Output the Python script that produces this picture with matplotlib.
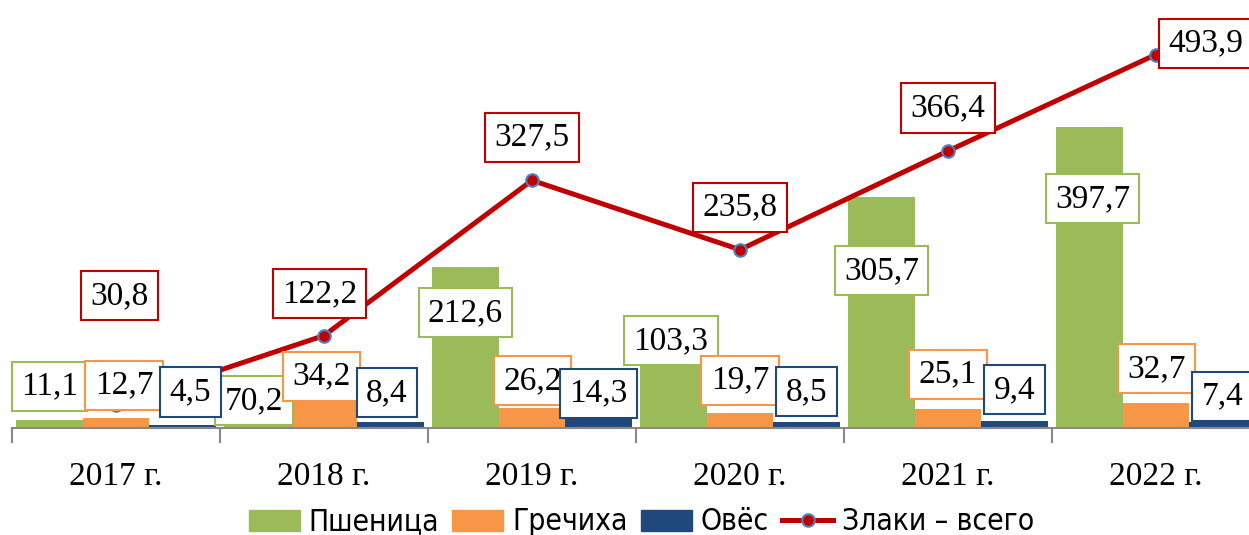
import numpy as np
import matplotlib.pyplot as plt
from matplotlib.lines import Line2D
from matplotlib.patches import Patch
from matplotlib.font_manager import FontProperties

# Data
years = ['2017 г.', '2018 г.', '2019 г.', '2020 г.', '2021 г.', '2022 г.']
wheat = [11.1, 70.2, 212.6, 103.3, 305.7, 397.7]
buckwheat = [12.7, 34.2, 26.2, 19.7, 25.1, 32.7]
oats = [4.5, 8.4, 14.3, 8.5, 9.4, 7.4]
total = [30.8, 122.2, 327.5, 235.8, 366.4, 493.9]
names = ['Пшеница', 'Гречиха', 'Овёс', 'Злаки – всего']

# label offsets in pixels (dx, dy) from mark
off_wheat = [(0, 33.5), (-3.5, -26), (0, -45.5), (-2.5, 9), (0, -74), (3, -71.5)]
off_buck = [(8, 33), (-2.5, 26), (0.5, 27.5), (0, 33), (0, 34.5), (0.5, 34.5)]
off_oats = [(8, 32.6), (-3.5, 29), (0, 24), (0, 30), (0, 31), (0, 26)]
off_total = [(3.5, 109), (-4.5, 42), (0, 43), (0, 42.5), (0, 43), (50, 11)]

GREEN = '#9BBB59'
ORANGE = '#F79646'
BLUE = '#1F497D'
RED = '#C00000'
MARK_EDGE = '#4F81BD'

SERIF = 'Liberation Serif'

fig = plt.figure(figsize=(12.49, 5.35), dpi=100)
ax = fig.add_axes([12/1249, 107/535, 6*208/1249, 428/535])

x = np.arange(len(years))
w = 0.32
ax.bar(x - w, wheat, w, color=GREEN, zorder=2)
ax.bar(x, buckwheat, w, color=ORANGE, zorder=2)
ax.bar(x + w, oats, w, color=BLUE, zorder=2)
ax.plot(x, total, color=RED, lw=3.6, marker='o', ms=9,
        mfc=RED, mec=MARK_EDGE, mew=1.5, zorder=3)

def labels(xs, vals, offs, ec):
    for xi, v, (dx, dy) in zip(xs, vals, offs):
        ax.annotate(f'{v:.1f}'.replace('.', ','), (xi, v),
                    xytext=(dx, dy), textcoords='offset pixels',
                    ha='center', va='center', fontsize=24, family=SERIF,
                    zorder=5, annotation_clip=False,
                    bbox=dict(boxstyle='square,pad=0.28', fc='white',
                              ec=ec, lw=1.5))

labels(x - w, wheat, off_wheat, GREEN)
labels(x, buckwheat, off_buck, ORANGE)
labels(x + w, oats, off_oats, BLUE)
labels(x, total, off_total, RED)

ax.set_xlim(-0.5, len(years) - 0.5)
ax.set_ylim(0, 566)
for s in ['top', 'left', 'right']:
    ax.spines[s].set_visible(False)
ax.spines['bottom'].set_color('#888888')
ax.spines['bottom'].set_linewidth(1.5)
ax.set_yticks([])
ax.set_xticks(x)
ax.set_xticklabels(years, fontsize=24, family=SERIF)
ax.tick_params(axis='x', which='major', length=0, pad=24)
ax.set_xticks(np.arange(len(years) + 1) - 0.5, minor=True)
ax.tick_params(axis='x', which='minor', length=11, width=1.5,
               color='#888888')

handles = [Patch(color=GREEN), Patch(color=ORANGE), Patch(color=BLUE),
           Line2D([], [], color=RED, lw=3.6, marker='o', ms=9,
                  mfc=RED, mec=MARK_EDGE, mew=1.5)]
legend_font = FontProperties(family='DejaVu Sans', stretch='condensed', size=21.5)
fig.legend(handles, names, loc='center', bbox_to_anchor=(641.5/1249, 13/535),
           ncol=4, frameon=False, handlelength=1.7, handletextpad=0.3,
           columnspacing=0.45, borderpad=0, prop=legend_font)

fig.savefig('out.png', dpi=100)
